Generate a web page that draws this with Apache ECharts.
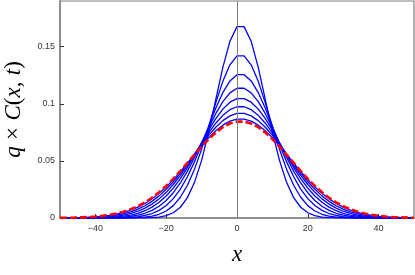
<!DOCTYPE html>
<html>
<head>
<meta charset="utf-8">
<script src="https://cdn.jsdelivr.net/npm/echarts@6/dist/echarts.min.js"></script>
<style>
html,body{margin:0;padding:0;background:#fff;}
#chart{width:415px;height:275px;}
</style>
</head>
<body>
<div id="chart"></div>
<script>
// x positions
const xValues = [-50,-48,-46,-44,-42,-40,-38,-36,-34,-32,-30,-28,-26,-24,-22,-20,-18,-16,-14,-12,-10,-8,-6,-4,-2,0,2,4,6,8,10,12,14,16,18,20,22,24,26,28,30,32,34,36,38,40,42,44,46,48,50];
// blue curves (successive times)
const c1 = [0,0,0,0,0,0,0,0,0,0,0.00001,0.00004,0.00012,0.00033,0.00085,0.00206,0.00458,0.00941,0.01784,0.03123,0.05047,0.07530,0.10369,0.13182,0.15469,0.16758,0.16758,0.15469,0.13182,0.10369,0.07530,0.05047,0.03123,0.01784,0.00941,0.00458,0.00206,0.00085,0.00033,0.00012,0.00004,0.00001,0,0,0,0,0,0,0,0,0];
const c2 = [0,0,0,0,0,0,0,0.00001,0.00002,0.00006,0.00015,0.00035,0.00078,0.00165,0.00327,0.00613,0.01085,0.01815,0.02868,0.04278,0.06027,0.08021,0.10081,0.11965,0.13414,0.14203,0.14203,0.13414,0.11965,0.10081,0.08021,0.06027,0.04278,0.02868,0.01815,0.01085,0.00613,0.00327,0.00165,0.00078,0.00035,0.00015,0.00006,0.00002,0.00001,0,0,0,0,0,0];
const c3 = [0,0,0,0,0,0.00001,0.00003,0.00006,0.00014,0.00030,0.00061,0.00118,0.00220,0.00392,0.00668,0.01089,0.01698,0.02533,0.03615,0.04934,0.06441,0.08044,0.09609,0.10980,0.12001,0.12546,0.12546,0.12001,0.10980,0.09609,0.08044,0.06441,0.04934,0.03615,0.02533,0.01698,0.01089,0.00668,0.00392,0.00220,0.00118,0.00061,0.00030,0.00014,0.00006,0.00003,0.00001,0,0,0,0];
const c4 = [0,0,0,0.00001,0.00003,0.00005,0.00011,0.00023,0.00044,0.00081,0.00145,0.00250,0.00415,0.00666,0.01031,0.01537,0.02212,0.03068,0.04104,0.05294,0.06584,0.07897,0.09133,0.10186,0.10955,0.11360,0.11360,0.10955,0.10186,0.09133,0.07897,0.06584,0.05294,0.04104,0.03068,0.02212,0.01537,0.01031,0.00666,0.00415,0.00250,0.00145,0.00081,0.00044,0.00023,0.00011,0.00005,0.00003,0.00001,0,0];
const c5 = [0,0.00001,0.00002,0.00004,0.00009,0.00016,0.00030,0.00054,0.00094,0.00159,0.00261,0.00413,0.00636,0.00949,0.01372,0.01925,0.02619,0.03454,0.04418,0.05480,0.06591,0.07687,0.08694,0.09535,0.10140,0.10457,0.10457,0.10140,0.09535,0.08694,0.07687,0.06591,0.05480,0.04418,0.03454,0.02619,0.01925,0.01372,0.00949,0.00636,0.00413,0.00261,0.00159,0.00094,0.00054,0.00030,0.00016,0.00009,0.00004,0.00002,0.00001];
const c6 = [0.00002,0.00003,0.00006,0.00011,0.00021,0.00036,0.00061,0.00102,0.00165,0.00259,0.00397,0.00592,0.00860,0.01217,0.01676,0.02247,0.02933,0.03729,0.04616,0.05563,0.06529,0.07460,0.08299,0.08991,0.09483,0.09739,0.09739,0.09483,0.08991,0.08299,0.07460,0.06529,0.05563,0.04616,0.03729,0.02933,0.02247,0.01676,0.01217,0.00860,0.00592,0.00397,0.00259,0.00165,0.00102,0.00061,0.00036,0.00021,0.00011,0.00006,0.00003];
const c7 = [0.00004,0.00008,0.00014,0.00024,0.00040,0.00065,0.00105,0.00164,0.00250,0.00373,0.00544,0.00774,0.01076,0.01460,0.01937,0.02509,0.03175,0.03923,0.04736,0.05584,0.06430,0.07233,0.07947,0.08528,0.08939,0.09152,0.09152,0.08939,0.08528,0.07947,0.07233,0.06430,0.05584,0.04736,0.03923,0.03175,0.02509,0.01937,0.01460,0.01076,0.00774,0.00544,0.00373,0.00250,0.00164,0.00105,0.00065,0.00040,0.00024,0.00014,0.00008];
const c8 = [0.00009,0.00016,0.00026,0.00042,0.00067,0.00104,0.00159,0.00237,0.00346,0.00494,0.00692,0.00950,0.01275,0.01676,0.02158,0.02721,0.03358,0.04059,0.04803,0.05566,0.06315,0.07016,0.07632,0.08130,0.08480,0.08660,0.08660,0.08480,0.08130,0.07632,0.07016,0.06315,0.05566,0.04803,0.04059,0.03358,0.02721,0.02158,0.01676,0.01275,0.00950,0.00692,0.00494,0.00346,0.00237,0.00159,0.00104,0.00067,0.00042,0.00026,0.00016];
// red dashed limit curve
const cLimit = [0.00013,0.00021,0.00034,0.00054,0.00083,0.00127,0.00189,0.00276,0.00396,0.00556,0.00766,0.01034,0.01368,0.01774,0.02255,0.02810,0.03432,0.04109,0.04822,0.05547,0.06254,0.06912,0.07487,0.07950,0.08275,0.08442,0.08442,0.08275,0.07950,0.07487,0.06912,0.06254,0.05547,0.04822,0.04109,0.03432,0.02810,0.02255,0.01774,0.01368,0.01034,0.00766,0.00556,0.00396,0.00276,0.00189,0.00127,0.00083,0.00054,0.00034,0.00021];
// tick labels
const xTicks = [-40,-20,0,20,40];
const yTicks = [0,0.05,0.1,0.15];

const blueCurves = [c1,c2,c3,c4,c5,c6,c7,c8];
const pair = arr => xValues.map((x,i)=>[x,arr[i]]);

const series = blueCurves.map((c,k)=>({
  type:'line', data:pair(c), showSymbol:false, symbol:'none',
  lineStyle:{color:'#0000ff', width:1.3}, silent:true, z:2,
  markLine: k===0 ? {silent:true, symbol:'none', label:{show:false},
    lineStyle:{color:'#808080', width:1, type:'solid'}, data:[{xAxis:0}]} : undefined
}));
series.push({
  type:'line', data:pair(cLimit), showSymbol:false, symbol:'none',
  lineStyle:{color:'#ff0000', width:2.6, type:[7,3]}, silent:true, z:3
});

const chart = echarts.init(document.getElementById('chart'), null, {renderer:'canvas'});
chart.setOption({
  animation:false,
  backgroundColor:'#fff',
  grid:{left:60, right:1, top:1, bottom:57, show:true, borderColor:'#808080', borderWidth:1.2,
    containLabel:false, outerBoundsMode:'none'},
  xAxis:{
    type:'value', min:-50, max:50,
    name:'x', nameLocation:'middle', nameGap:25,
    nameTextStyle:{fontFamily:'Liberation Serif', fontStyle:'italic', fontSize:23, color:'#000'},
    axisLine:{show:true, onZero:false, lineStyle:{color:'#808080', width:1.5}},
    axisTick:{show:true, inside:true, length:4, customValues:xTicks, lineStyle:{color:'#333'}},
    axisLabel:{customValues:xTicks, margin:6, fontFamily:'Liberation Sans', fontSize:9, color:'#333',
      formatter:v=> (v<0?'\u2212'+Math.abs(v):String(v))},
    splitLine:{show:false}
  },
  yAxis:{
    type:'value', min:0, max:0.19,
    name:'{i|q} {n|\u00d7} {i|C}{n|(}{i|x}{n|,} {i|t}{n|)}', nameLocation:'middle', nameGap:35, nameRotate:90,
    nameTextStyle:{fontSize:23, color:'#000',
      rich:{
        i:{fontFamily:'Liberation Serif', fontStyle:'italic', fontSize:23, color:'#000'},
        n:{fontFamily:'Liberation Serif', fontSize:23, color:'#000'}
      }},
    axisLine:{show:true, onZero:false, lineStyle:{color:'#808080', width:1.5}},
    axisTick:{show:true, inside:true, length:4, customValues:yTicks, lineStyle:{color:'#333'}},
    axisLabel:{customValues:yTicks, margin:5, fontFamily:'Liberation Sans', fontSize:9, color:'#333',
      formatter:v=>String(Number(v.toFixed(4)))},
    splitLine:{show:false}
  },
  series:series
});
</script>
</body>
</html>
